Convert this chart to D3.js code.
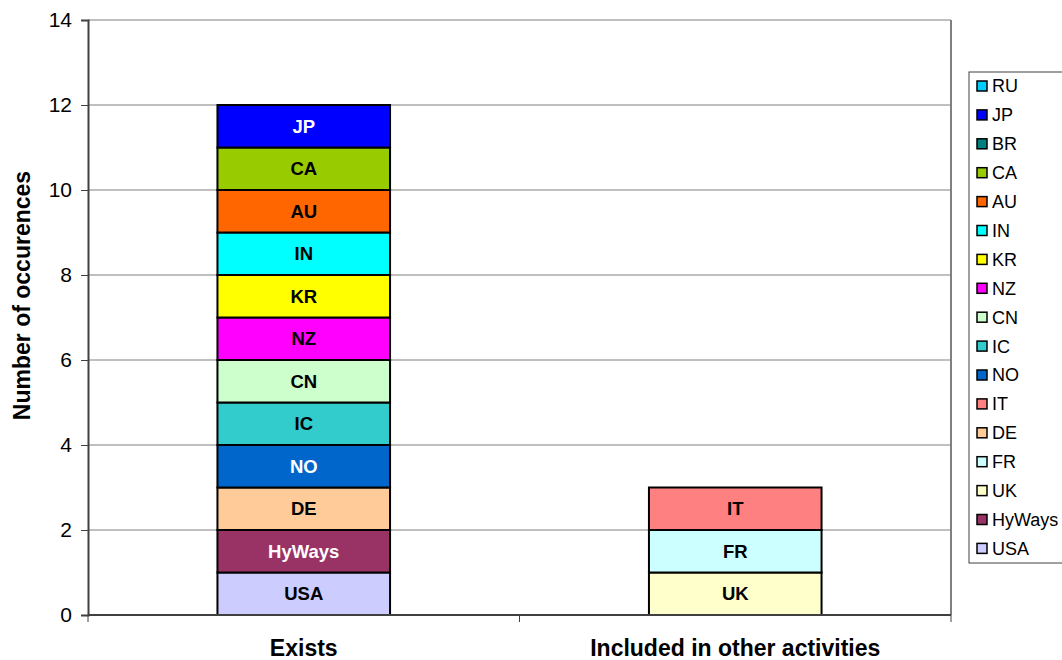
<!DOCTYPE html>
<html>
<head>
<meta charset="utf-8">
<script src="https://cdn.jsdelivr.net/npm/d3@7"></script>
<style>
  body { margin: 0; background: #fff; }
  text { font-family: "Liberation Sans", Arial, sans-serif; }
</style>
</head>
<body>
<div id="chart"></div>
<script>
// categories on the x axis
let categories = ["Exists", "Included in other activities"]

// series in stacking order (bottom to top); values per category
let seriesNames = ["USA", "HyWays", "UK", "FR", "DE", "IT", "NO", "IC", "CN", "NZ", "KR", "IN", "AU", "CA", "BR", "JP", "RU"]
let existsValues = [1, 1, 0, 0, 1, 0, 1, 1, 1, 1, 1, 1, 1, 1, 0, 1, 0]
let includedValues = [0, 0, 1, 1, 0, 1, 0, 0, 0, 0, 0, 0, 0, 0, 0, 0, 0]
let seriesColors = ["#CCCCFF", "#993366", "#FFFFCC", "#CCFFFF", "#FFCC99", "#FF8080", "#0066CC", "#33CCCC",
    "#CCFFCC", "#FF00FF", "#FFFF00", "#00FFFF", "#FF6600", "#99CC00", "#008080", "#0000FF", "#00CCFF"]
let whiteLabels = ["HyWays", "NO", "JP"]
let yTicks = [0, 2, 4, 6, 8, 10, 12, 14]

var W = 1062, H = 660
var margin = { top: 20, right: 111, bottom: 45, left: 88 }
var width = W - margin.left - margin.right,
    height = H - margin.top - margin.bottom

var svgRoot = d3.select("#chart").append("svg")
    .attr("width", W).attr("height", H)
var svg = svgRoot.append("g")
    .attr("transform", "translate(" + margin.left + "," + margin.top + ")")

var x = d3.scaleBand().domain(categories).range([0, width])
var y = d3.scaleLinear().domain([0, 14]).range([height, 0])

// table for stacking
var table = categories.map(function (c, ci) {
    var row = { cat: c }
    seriesNames.forEach(function (s, si) {
        row[s] = ci === 0 ? existsValues[si] : includedValues[si]
    })
    return row
})
var stacked = d3.stack().keys(seriesNames)(table)

// gridlines
svg.append("g").selectAll("line")
    .data(yTicks.filter(d => d > 0))
    .enter().append("line")
    .attr("x1", 0).attr("x2", width)
    .attr("y1", d => y(d)).attr("y2", d => y(d))
    .attr("stroke", "#808080").attr("stroke-width", 1)

// plot frame right side
svg.append("line").attr("x1", width).attr("x2", width).attr("y1", 0).attr("y2", height)
    .attr("stroke", "#808080").attr("stroke-width", 2)

// bars
var barW = x.bandwidth() * 0.4
var layers = svg.selectAll(".layer")
    .data(stacked).enter().append("g")
    .attr("fill", (d, i) => seriesColors[i])

layers.selectAll("rect")
    .data(d => d.map(p => ({ p: p, key: d.key })).filter(o => o.p[1] - o.p[0] > 0))
    .enter().append("rect")
    .attr("x", o => x(o.p.data.cat) + (x.bandwidth() - barW) / 2)
    .attr("y", o => y(o.p[1]))
    .attr("width", barW)
    .attr("height", o => y(o.p[0]) - y(o.p[1]))
    .attr("stroke", "#000").attr("stroke-width", 2)

layers.selectAll("text")
    .data(d => d.map(p => ({ p: p, key: d.key })).filter(o => o.p[1] - o.p[0] > 0))
    .enter().append("text")
    .attr("x", o => x(o.p.data.cat) + x.bandwidth() / 2)
    .attr("y", o => (y(o.p[0]) + y(o.p[1])) / 2)
    .attr("dy", "0.36em")
    .attr("text-anchor", "middle")
    .style("font-size", "18.5px").attr("font-weight", "bold")
    .attr("fill", o => whiteLabels.includes(o.key) ? "#fff" : "#000")
    .text(o => o.key)

// y axis
var yAxis = svg.append("g")
    .call(d3.axisLeft(y).tickValues(yTicks).tickSize(7).tickPadding(9))
yAxis.select(".domain").attr("stroke", "#404040").attr("stroke-width", 2)
yAxis.selectAll(".tick line").attr("stroke", "#404040")
yAxis.selectAll("text").style("font-size", "21px").attr("fill", "#000")
    .style("font-family", "Liberation Sans, Arial, sans-serif")

// x axis
var xAxis = svg.append("g").attr("transform", "translate(0," + height + ")")
xAxis.append("line").attr("x1", 0).attr("x2", width).attr("y1", 0).attr("y2", 0)
    .attr("stroke", "#404040").attr("stroke-width", 2)
xAxis.selectAll(".xt").data([0, width / 2, width]).enter().append("line")
    .attr("x1", d => d).attr("x2", d => d).attr("y1", 0).attr("y2", 7)
    .attr("stroke", "#404040")
xAxis.selectAll(".xl").data(categories).enter().append("text")
    .attr("x", d => x(d) + x.bandwidth() / 2)
    .attr("y", 41)
    .attr("text-anchor", "middle")
    .style("font-size", "23px").attr("font-weight", "bold")
    .text(d => d)

// y axis title
svg.append("text")
    .attr("transform", "translate(" + (-58) + "," + (height / 2 - 22) + ") rotate(-90)")
    .attr("text-anchor", "middle")
    .style("font-size", "23px").attr("font-weight", "bold")
    .text("Number of occurences")

// legend (reverse order)
var legend = svgRoot.append("g").attr("transform", "translate(969,72)")
legend.append("rect").attr("x", 0).attr("y", 0).attr("width", 110).attr("height", 491)
    .attr("fill", "#fff").attr("stroke", "#404040").attr("stroke-width", 1)
var legendItems = seriesNames.map((s, i) => ({ name: s, color: seriesColors[i] })).reverse()
var li = legend.selectAll(".li").data(legendItems).enter().append("g")
    .attr("transform", (d, i) => "translate(8," + (14 + i * 28.9) + ")")
li.append("rect").attr("x", 0).attr("y", -5).attr("width", 10).attr("height", 10)
    .attr("fill", d => d.color).attr("stroke", "#000").attr("stroke-width", 1.5)
li.append("text").attr("x", 15).attr("y", 0).attr("dy", "0.36em")
    .style("font-size", "18px").text(d => d.name)
</script>
</body>
</html>
